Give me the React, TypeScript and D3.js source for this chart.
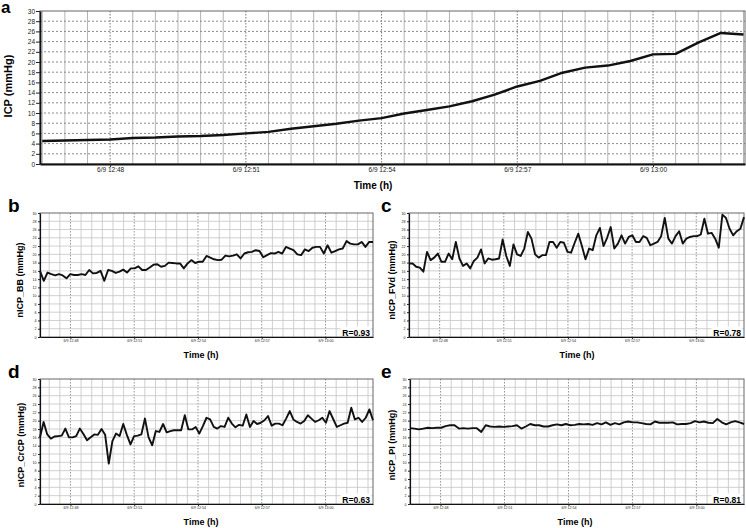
import React, { useEffect, useRef } from "react";
import * as d3 from "d3";

const timeOf = (h: number, m: number, s: number) => new Date(2013, 5, 9, h, m, s);

// ICP, invasive, sampled every 30 s from 12:46:30
const icp = [
  4.5, 4.6, 4.7, 4.8, 5.1, 5.2, 5.4, 5.5, 5.7, 6.0, 6.3, 6.9, 7.4, 7.9, 8.5, 9.0,
  9.9, 10.6, 11.3, 12.3, 13.6, 15.2, 16.3, 17.9, 18.9, 19.3, 20.2, 21.5, 21.6, 23.8,
  25.7, 25.4,
];

const nicpBB = [
  16.0, 13.6, 15.6, 15.2, 14.9, 15.2, 14.9, 14.2, 15.2, 15.0, 15.0, 15.2, 15.0, 16.2,
  15.4, 15.5, 16.0, 13.6, 16.2, 16.0, 15.5, 15.8, 16.3, 15.6, 16.6, 16.6, 17.1, 16.2,
  16.2, 16.8, 17.5, 17.6, 17.0, 17.2, 18.0, 17.9, 17.8, 17.8, 16.6, 17.8, 18.6, 17.9,
  18.2, 18.2, 19.6, 19.2, 18.8, 18.6, 18.7, 19.7, 19.5, 19.7, 20.0, 19.0, 20.2, 20.5,
  20.6, 21.0, 20.8, 19.3, 19.8, 20.3, 20.2, 20.6, 20.2, 21.8, 21.4, 21.0, 20.0, 19.8,
  21.2, 20.8, 21.6, 21.8, 21.8, 20.2, 22.2, 20.4, 20.8, 21.2, 21.4, 23.2, 22.6, 22.4,
  22.4, 23.0, 21.8, 23.0, 23.0,
];

const nicpFVd = [
  17.8, 17.8, 17.0, 16.8, 15.8, 20.6, 18.6, 19.2, 20.2, 18.2, 18.2, 20.2, 18.8, 23.0,
  19.0, 17.2, 17.8, 16.6, 18.4, 19.2, 21.2, 17.8, 19.0, 18.7, 18.8, 19.0, 23.6, 19.6,
  17.2, 22.4, 20.0, 19.6, 21.4, 25.4, 23.8, 20.0, 19.2, 19.8, 19.8, 23.0, 23.0, 21.6,
  23.0, 22.8, 20.6, 20.4, 22.8, 25.0, 22.0, 18.8, 21.4, 21.0, 24.6, 26.4, 22.0, 24.0,
  26.6, 21.4, 22.6, 24.6, 22.6, 24.2, 24.6, 23.0, 23.0, 24.4, 24.0, 22.2, 22.6, 23.0,
  24.4, 28.8, 23.8, 22.6, 24.4, 25.6, 22.6, 23.8, 24.2, 24.4, 24.4, 24.8, 28.6, 25.0,
  25.2, 23.8, 21.6, 29.6, 28.8, 26.2, 24.6, 25.6, 26.2, 29.0,
];

const nicpCrCP = [
  16.0, 19.7, 16.7, 15.7, 16.2, 16.3, 16.4, 18.1, 16.0, 16.0, 16.3, 18.1, 16.8, 15.3,
  16.0, 16.7, 16.6, 18.0, 16.6, 9.7, 15.1, 16.9, 16.3, 19.2, 16.6, 14.3, 16.3, 16.4,
  16.7, 20.5, 16.0, 14.1, 17.5, 17.3, 19.2, 17.2, 17.5, 17.7, 17.7, 17.7, 21.3, 17.9,
  17.9, 18.5, 16.9, 18.7, 20.7, 20.3, 18.5, 18.1, 18.7, 18.5, 20.7, 19.3, 18.4, 19.0,
  18.8, 21.5, 18.5, 19.9, 19.2, 19.5, 20.1, 21.1, 18.8, 19.3, 19.3, 18.9, 20.5, 22.3,
  20.3, 19.7, 19.3, 19.9, 21.3, 20.5, 19.7, 20.1, 20.7, 19.5, 22.3, 20.4, 18.5, 18.9,
  19.3, 19.5, 23.1, 20.3, 20.7, 19.7, 20.7, 22.7, 20.1,
];

const nicpPI = [
  18.2, 18.1, 17.9, 18.1, 18.3, 18.2, 18.3, 18.3, 18.7, 18.9, 18.9, 18.1, 18.2, 18.1,
  18.2, 18.2, 17.3, 18.9, 18.6, 18.5, 18.6, 18.5, 18.6, 18.7, 18.9, 18.1, 18.6, 19.2,
  18.9, 18.9, 18.6, 18.6, 18.9, 19.1, 18.9, 19.2, 18.9, 19.0, 19.2, 19.1, 19.2, 19.0,
  19.4, 19.1, 19.6, 19.0, 19.4, 19.1, 19.6, 19.8, 19.6, 19.6, 19.4, 19.2, 19.1, 19.8,
  19.5, 19.5, 19.5, 19.6, 19.1, 19.2, 19.2, 19.4, 19.9, 19.6, 19.8, 19.5, 19.4, 20.4,
  19.6, 19.1, 19.6, 19.9, 19.6, 19.2,
];

const bigDomain: [Date, Date] = [timeOf(12, 46, 27), timeOf(13, 2, 2)];
const smallDomain: [Date, Date] = [timeOf(12, 46, 34), timeOf(13, 2, 14)];
const icpTimes = d3.timeSecond.every(30)!.range(timeOf(12, 46, 30), timeOf(13, 2, 1));

const spread = (vals: number[], dom: [Date, Date]) => {
  const t = d3.scaleLinear().domain([0, vals.length - 1]).range([+dom[0], +dom[1]]);
  return vals.map((v, i) => ({ t: new Date(t(i)), v }));
};

const FONT = "'Liberation Sans', Arial, sans-serif";

interface PanelCfg {
  x0: number; x1: number; y0: number; y1: number;
  big: boolean;
  domain: [Date, Date];
  data: { t: Date; v: number }[];
  letter: string; lx: number; ly: number;
  ylabel: string; yx: number; yc: number;
  xc: number; xy: number;
  r?: string;
}

function drawPanel(svg: d3.Selection<SVGSVGElement, unknown, null, undefined>, c: PanelCfg) {
  const x = d3.scaleTime().domain(c.domain).range([c.x0, c.x1]);
  const y = d3.scaleLinear().domain([0, 30]).range([c.y1, c.y0]);
  const g = svg.append("g");

  g.append("rect").attr("x", c.x0).attr("y", c.y0)
    .attr("width", c.x1 - c.x0).attr("height", c.y1 - c.y0).attr("fill", "#fff");

  // vertical grid every 30 s, dotted at the labelled ticks
  const isMajor = (d: Date) => d.getMinutes() % 3 === 0 && d.getSeconds() === 0;
  const grid = d3.timeSecond.every(30)!.range(c.domain[0], c.domain[1]);
  g.selectAll(".vg").data(grid).enter().append("line")
    .attr("x1", (d) => x(d)).attr("x2", (d) => x(d))
    .attr("y1", c.y0).attr("y2", c.y1)
    .attr("stroke", (d) => (isMajor(d) ? "#777" : c.big ? "#b4b4b4" : "#c4c4c4"))
    .attr("stroke-width", c.big ? 1 : 0.8)
    .attr("stroke-dasharray", (d) => (isMajor(d) ? "1.5,1.5" : null));

  g.selectAll(".hg").data(d3.range(2, 30, 2)).enter().append("line")
    .attr("x1", c.x0).attr("x2", c.x1)
    .attr("y1", (d) => y(d)).attr("y2", (d) => y(d))
    .attr("stroke", c.big ? "#8a8a8a" : "#c4c4c4")
    .attr("stroke-width", c.big ? 1 : 0.8)
    .attr("stroke-dasharray", c.big ? "2,2" : null);

  g.append("rect").attr("x", c.x0).attr("y", c.y0)
    .attr("width", c.x1 - c.x0).attr("height", c.y1 - c.y0)
    .attr("fill", "none").attr("stroke", "#666").attr("stroke-width", 1);

  const ya = g.append("g").attr("transform", `translate(${c.x0},0)`)
    .call(d3.axisLeft(y).tickValues(d3.range(0, 31, 2)).tickSize(c.big ? 4 : 2)
      .tickSizeOuter(0).tickPadding(c.big ? 1 : 1.5));
  const xa = g.append("g").attr("transform", `translate(0,${c.y1})`)
    .call(d3.axisBottom(x).ticks(d3.timeMinute.every(3)).tickFormat(d3.timeFormat("%-m/%-d %H:%M") as any)
      .tickSize(c.big ? 3 : 2).tickSizeOuter(0).tickPadding(0.5));
  [ya, xa].forEach((a) => {
    a.select(".domain").attr("stroke", "#111").attr("stroke-width", c.big ? 1.8 : 1.2);
    a.selectAll("line").attr("stroke", "#222");
    a.selectAll("text").attr("font-family", FONT).attr("font-size", c.big ? 6.5 : 3.6).attr("fill", "#222");
  });

  const line = d3.line<{ t: Date; v: number }>().x((d) => x(d.t)).y((d) => y(d.v));
  g.append("path").datum(c.data).attr("d", line).attr("fill", "none")
    .attr("stroke", "#111").attr("stroke-width", c.big ? 2.4 : 1.9)
    .attr("stroke-linejoin", "round");

  g.append("text").attr("x", c.lx).attr("y", c.ly).attr("font-family", FONT)
    .attr("font-weight", "bold").attr("font-size", c.big ? 17 : 19).text(c.letter);

  g.append("text").attr("transform", `translate(${c.yx},${c.yc}) rotate(-90)`)
    .attr("text-anchor", "middle").attr("font-family", FONT).attr("font-weight", "bold")
    .attr("font-size", c.big ? 11 : 9).text(c.ylabel);

  g.append("text").attr("x", c.xc).attr("y", c.xy).attr("text-anchor", "middle")
    .attr("font-family", FONT).attr("font-weight", "bold").attr("font-size", c.big ? 10 : 9)
    .text("Time (h)");

  if (c.r) {
    const t = g.append("text").attr("x", c.x1 - 3).attr("y", c.y1 - 1.5).attr("text-anchor", "end")
      .attr("font-family", FONT).attr("font-weight", "bold").attr("font-size", 8.5).text(c.r);
    const bb = (t.node() as SVGTextElement).getBBox();
    g.insert("rect", () => t.node() as any).attr("x", bb.x - 2).attr("y", bb.y - 1)
      .attr("width", bb.width + 3).attr("height", c.y1 - bb.y).attr("fill", "#fff");
  }
}

export default function App() {
  const ref = useRef<SVGSVGElement | null>(null);

  useEffect(() => {
    const svg = d3.select(ref.current!);
    svg.selectAll("*").remove();

    const aData = icp.map((v, i) => ({ t: icpTimes[i], v }));

    drawPanel(svg as any, {
      x0: 40, x1: 745, y0: 11, y1: 164, big: true, domain: bigDomain, data: aData,
      letter: "a", lx: 1, ly: 13, ylabel: "ICP (mmHg)", yx: 12, yc: 86, xc: 373, xy: 189,
    });
    drawPanel(svg as any, {
      x0: 40, x1: 373, y0: 213, y1: 337, big: false, domain: smallDomain, data: spread(nicpBB, smallDomain),
      letter: "b", lx: 8, ly: 212, ylabel: "nICP_BB (mmHg)", yx: 23, yc: 280, xc: 201, xy: 358, r: "R=0.93",
    });
    drawPanel(svg as any, {
      x0: 409, x1: 744, y0: 213, y1: 337, big: false, domain: smallDomain, data: spread(nicpFVd, smallDomain),
      letter: "c", lx: 381, ly: 212, ylabel: "nICP_FVd (mmHg)", yx: 395, yc: 280, xc: 577, xy: 358, r: "R=0.78",
    });
    drawPanel(svg as any, {
      x0: 40, x1: 373, y0: 379, y1: 504, big: false, domain: smallDomain, data: spread(nicpCrCP, smallDomain),
      letter: "d", lx: 8, ly: 378, ylabel: "nICP_CrCP (mmHg)", yx: 24, yc: 445, xc: 201, xy: 525, r: "R=0.63",
    });
    drawPanel(svg as any, {
      x0: 410, x1: 744, y0: 379, y1: 504, big: false, domain: smallDomain, data: spread(nicpPI, smallDomain),
      letter: "e", lx: 381, ly: 378, ylabel: "nICP_PI (mmHg)", yx: 395, yc: 445, xc: 575, xy: 525, r: "R=0.81",
    });
  }, []);

  return (
    <svg
      ref={ref}
      width={746}
      height={528}
      style={{ position: "absolute", left: 0, top: 0, background: "#fff" }}
    ></svg>
  );
}
